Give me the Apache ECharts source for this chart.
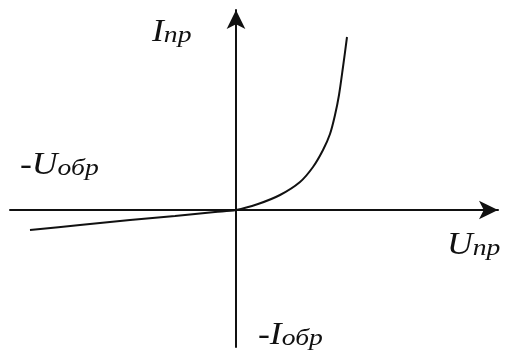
<!DOCTYPE html>
<html>
<head>
<meta charset="utf-8">
<script src="https://cdn.jsdelivr.net/npm/echarts@6/dist/echarts.min.js"></script>
<style>
  html, body { margin: 0; padding: 0; background: #fff; }
  #chart { width: 505px; height: 350px; }
</style>
</head>
<body>
<div id="chart"></div>
<script>
// ВАХ диода: прямая и обратная ветви (условные единицы)
var reverseU = [-206, -156, -106, -61, -21, 0];
var reverseI = [-20, -15, -10, -6, -2, 0];
var forwardU = [0, 22, 44, 64, 77, 87, 94, 99, 103, 107, 111];
var forwardI = [0, 6, 15, 28, 43, 60, 76, 95, 115, 143, 173];

// подписи осей
var axisLabels = ['I|пр', '-U|обр', 'U|пр', '-I|обр'];

function toPairs(xs, ys) {
    var out = [];
    for (var i = 0; i < xs.length; i++) {
        out.push([xs[i], ys[i]]);
    }
    return out;
}

var curve = toPairs(reverseU, reverseI).concat(toPairs(forwardU, forwardI).slice(1));

function richLabel(s) {
    var p = s.split('|');
    return '{a|' + p[0] + '}{b|' + p[1] + '}';
}

var rich = {
    a: { fontFamily: 'Liberation Serif', fontStyle: 'italic', fontWeight: 'normal', fontSize: 31, fill: '#111', verticalAlign: 'bottom', lineHeight: 32 },
    b: { fontFamily: 'Liberation Serif', fontStyle: 'italic', fontWeight: 'normal', fontSize: 24, fill: '#111', verticalAlign: 'bottom', lineHeight: 32 }
};

function textEl(s, left, top) {
    return {
        type: 'text',
        left: left,
        top: top,
        scaleX: 1.15,
        style: { text: richLabel(s), rich: rich }
    };
}

var axisLine = {
    onZero: true,
    symbol: ['none', 'arrow'],
    symbolSize: [14, 19],
    lineStyle: { color: '#111', width: 2 }
};

var option = {
    backgroundColor: '#fff',
    animation: false,
    grid: { left: 10, right: 7, top: 10, bottom: 3 },
    xAxis: {
        type: 'value',
        min: -226,
        max: 262,
        axisLine: axisLine,
        axisTick: { show: false },
        axisLabel: { show: false },
        splitLine: { show: false }
    },
    yAxis: {
        type: 'value',
        min: -137,
        max: 200,
        axisLine: axisLine,
        axisTick: { show: false },
        axisLabel: { show: false },
        splitLine: { show: false }
    },
    series: [{
        type: 'line',
        data: curve,
        smooth: 0.3,
        showSymbol: false,
        lineStyle: { color: '#111', width: 2 }
    }],
    graphic: [
        textEl(axisLabels[0], 152, 17),
        textEl(axisLabels[1], 20, 150),
        textEl(axisLabels[2], 447, 230),
        textEl(axisLabels[3], 258, 320)
    ]
};

var myChart = echarts.init(document.getElementById('chart'));
myChart.setOption(option);
</script>
</body>
</html>
